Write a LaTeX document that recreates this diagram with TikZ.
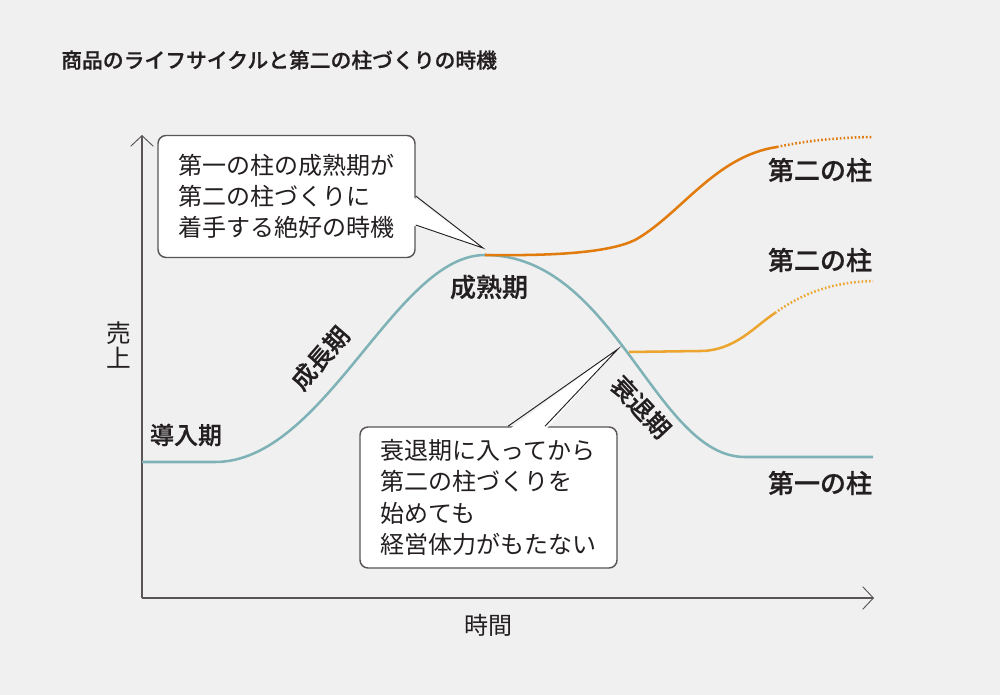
\documentclass[tikz,border=0pt]{standalone}
\usepackage{fontspec}
\setmainfont{Noto Sans CJK JP}[BoldFont={Noto Sans CJK JP Medium},BoldFeatures={FakeBold=0.7}]
\usetikzlibrary{arrows.meta}
\definecolor{bg}{HTML}{F0F0F0}
\definecolor{ink}{HTML}{231F20}
\definecolor{axis}{HTML}{5A5555}
\definecolor{teal}{HTML}{7FB2B6}
\definecolor{orangeA}{HTML}{E07B0C}
\definecolor{orangeB}{HTML}{ECA630}
\tikzset{
  axisline/.style={draw=axis,line width=1.2pt,-{Straight Barb[length=8pt,width=17pt,line width=0.7pt]}},
  tealline/.style={draw=teal,line width=1.9pt},
  orA/.style={draw=orangeA,line width=1.9pt},
  orB/.style={draw=orangeB,line width=1.9pt},
  dotline/.style={line width=1.9pt,dash pattern=on 1.2pt off 1.6pt},
  callout/.style={draw=axis,line width=1.1pt,fill=white,rounded corners=6pt,
    minimum width=192.75pt,align=left,text=ink,inner sep=0pt,
    font=\fontsize{18}{23.5}\selectfont},
  pointer/.style={draw=ink,line width=0.7pt},
  lbl/.style={text=ink,inner sep=0pt,font=\fontsize{19.5}{23}\selectfont\bfseries},
}
\begin{document}
\begin{tikzpicture}[x=0.75pt,y=-0.75pt]
\fill[bg] (0,0) rectangle (1000,695);
\useasboundingbox (0,0) rectangle (1000,695);

% title
\node[anchor=west,text=ink,inner sep=0pt,font=\fontsize{15.6}{18}\selectfont\bfseries] (title) at (61,60) {商品のライフサイクルと第二の柱づくりの時機};

% axes
\coordinate (O) at (142,598);
\coordinate (ytop) at (142,135);
\coordinate (xend) at (874,598);
\draw[axisline] (O) -- (ytop);
\draw[axisline] (O) -- (xend);
\node[text=ink,inner sep=0pt,align=center,font=\fontsize{18.5}{19}\selectfont] (ylab) at (119,345) {売\\上};
\node[text=ink,inner sep=0pt,font=\fontsize{18}{20}\selectfont] (xlab) at (488,625) {時間};

% curves
\coordinate (s0) at (142,462);
\coordinate (s1) at (215,462);
\coordinate (peak) at (485,255);
\coordinate (br) at (629,352);
\coordinate (e0) at (745,457);
\coordinate (e1) at (873,457);
\draw[tealline] (s0) -- (s1) .. controls (325,462) and (395,255) .. (peak)
  .. controls (615,255) and (655,457) .. (e0) -- (e1);

% upper second pillar
\coordinate (u1) at (635,240);
\coordinate (u2) at (777,147);
\coordinate (u3) at (873,137);
\draw[orA] (peak) .. controls (560,256) and (610,252) .. (u1)
  .. controls (680,215) and (715,156) .. (u2);
\draw[orA,dotline] (u2) .. controls (810,140) and (840,137.5) .. (u3);

% lower second pillar
\coordinate (l1) at (700,351);
\coordinate (l2) at (775,313);
\coordinate (l3) at (873,281);
\draw[orB] (br) -- (l1) .. controls (735,351) and (755,326) .. (l2);
\draw[orB,dotline] (l2) .. controls (800,295) and (830,282) .. (l3);

% labels
\node[lbl] (lu) at (820,170) {第二の柱};
\node[lbl] (ll) at (820,260) {第二の柱};
\node[lbl] (l0) at (820,483) {第一の柱};
\node[lbl] (mat) at (489,287) {成熟期};
\node[lbl,font=\fontsize{18}{20}\selectfont\bfseries] (intro) at (186,435) {導入期};
\node[lbl,font=\fontsize{18.5}{20}\selectfont\bfseries,rotate=49] (grow) at (320,358) {成長期};
\node[lbl,font=\fontsize{18.5}{20}\selectfont\bfseries,rotate=-47] (decl) at (641,407) {衰退期};

% callout 1
\node[callout,minimum height=91.5pt] (c1) at (286.5,196.5) {第一の柱の成熟期が\\第二の柱づくりに\\着手する絶好の時機};
\coordinate (c1a) at (c1.east |- 0,196);
\coordinate (c1b) at (c1.east |- 0,225);
\coordinate (c1t) at (483,248);
\fill[white] ([xshift=-3pt]c1a) -- (c1t) -- ([xshift=-3pt]c1b) -- cycle;
\draw[pointer] (c1a) -- (c1t) -- (c1b);

% callout 2
\node[callout,minimum height=105.75pt] (c2) at (488.5,497.5) {衰退期に入ってから\\第二の柱づくりを\\始めても\\経営体力がもたない};
\coordinate (c2a) at (c2.north -| 508,0);
\coordinate (c2b) at (c2.north -| 545,0);
\coordinate (c2t) at (618,349);
\fill[white] ([yshift=-3pt]c2a) -- (c2t) -- ([yshift=-3pt]c2b) -- cycle;
\draw[pointer] (c2a) -- (c2t) -- (c2b);
\end{tikzpicture}
\end{document}
